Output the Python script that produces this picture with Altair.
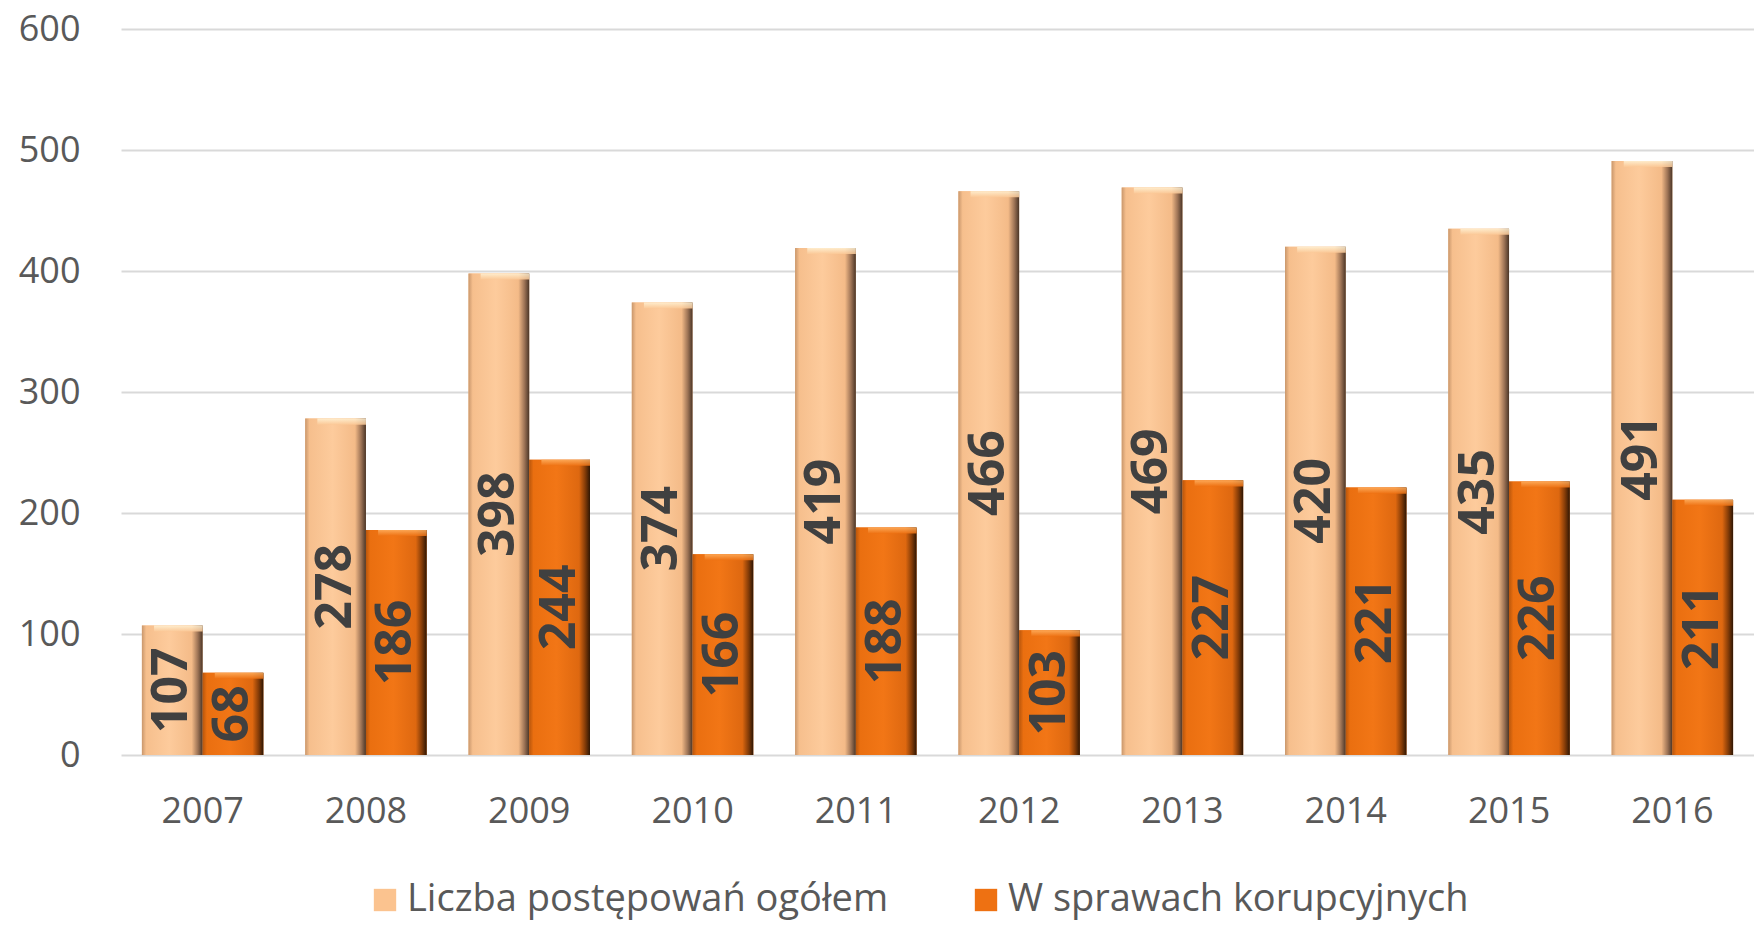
import altair as alt
import pandas as pd

years = ["2007", "2008", "2009", "2010", "2011", "2012", "2013", "2014", "2015", "2016"]
ogolem = [107, 278, 398, 374, 419, 466, 469, 420, 435, 491]
korupcyjne = [68, 186, 244, 166, 188, 103, 227, 221, 226, 211]
series_names = ["Liczba postępowań ogółem", "W sprawach korupcyjnych"]
series_colors = ["#FBC38F", "#EE7112"]
y_ticks = [0, 100, 200, 300, 400, 500, 600]

rows = []
for i, yr in enumerate(years):
    rows.append({"rok": yr, "seria": series_names[0], "wartosc": ogolem[i]})
    rows.append({"rok": yr, "seria": series_names[1], "wartosc": korupcyjne[i]})
df = pd.DataFrame(rows)

FONT = "Open Sans"
GREY = "#595959"

x_enc = alt.X(
    "rok:N",
    sort=years,
    scale=alt.Scale(paddingInner=0.256, paddingOuter=0.128),
    axis=alt.Axis(
        title=None, labelAngle=0, domain=False, ticks=False,
        labelFontSize=36, labelFont=FONT, labelColor=GREY, labelPadding=39,
    ),
)
xoff_enc = alt.XOffset(
    "seria:N", sort=series_names,
    scale=alt.Scale(domain=series_names, paddingInner=0, paddingOuter=0),
)
y_scale = alt.Scale(domain=[0, 600], nice=False)
y_enc = alt.Y(
    "wartosc:Q",
    scale=y_scale,
    axis=alt.Axis(
        title=None, values=y_ticks, domain=False, ticks=False,
        labelFontSize=36, labelFont=FONT, labelColor=GREY, labelPadding=41,
        grid=True, gridColor="#D9D9D9", gridWidth=2,
    ),
)

base = alt.Chart(df).encode(x=x_enc, xOffset=xoff_enc)

bars = base.mark_bar(strokeWidth=0).encode(
    y=y_enc,
    color=alt.Color(
        "seria:N", sort=series_names,
        scale=alt.Scale(domain=series_names, range=series_colors),
        legend=alt.Legend(
            orient="none", legendX=245, legendY=852, direction="horizontal",
            title=None, labelFontSize=38, labelFont=FONT, labelColor=GREY,
            labelLimit=800, symbolType="square", symbolSize=500,
            symbolStrokeWidth=0, columnPadding=78, labelOffset=3,
        ),
    ),
)

grad_light = alt.Gradient(
    gradient="linear", x1=0, x2=1, y1=0, y2=0,
    stops=[
        alt.GradientStop(offset=0, color="#C9976C"),
        alt.GradientStop(offset=0.07, color="#F6BF8D"),
        alt.GradientStop(offset=0.45, color="#FDCB9C"),
        alt.GradientStop(offset=0.82, color="#F4BB88"),
        alt.GradientStop(offset=0.92, color="#9E7456"),
        alt.GradientStop(offset=1, color="#4A3527"),
    ],
)
grad_orange = alt.Gradient(
    gradient="linear", x1=0, x2=1, y1=0, y2=0,
    stops=[
        alt.GradientStop(offset=0, color="#B9560C"),
        alt.GradientStop(offset=0.07, color="#EA6F10"),
        alt.GradientStop(offset=0.45, color="#F27616"),
        alt.GradientStop(offset=0.82, color="#DE6810"),
        alt.GradientStop(offset=0.92, color="#843C08"),
        alt.GradientStop(offset=1, color="#2E1604"),
    ],
)
cap_light = alt.Gradient(
    gradient="linear", x1=0, x2=0, y1=0, y2=1,
    stops=[
        alt.GradientStop(offset=0, color="#FFF3D6"),
        alt.GradientStop(offset=1, color="#FBC896"),
    ],
)
cap_orange = alt.Gradient(
    gradient="linear", x1=0, x2=0, y1=0, y2=1,
    stops=[
        alt.GradientStop(offset=0, color="#FFB060"),
        alt.GradientStop(offset=1, color="#EE7112"),
    ],
)

over_light = base.transform_filter(
    alt.datum.seria == series_names[0]
).mark_bar(fill=grad_light, strokeWidth=0).encode(y=y_enc)
over_orange = base.transform_filter(
    alt.datum.seria == series_names[1]
).mark_bar(fill=grad_orange, strokeWidth=0).encode(y=y_enc)

top_light = base.transform_filter(
    alt.datum.seria == series_names[0]
).transform_calculate(
    capb="datum.wartosc - 5"
).mark_bar(fill=cap_light, strokeWidth=0, opacity=0.85, width={"band": 0.8}).encode(
    y=alt.Y("wartosc:Q", scale=y_scale), y2="capb:Q"
)
top_orange = base.transform_filter(
    alt.datum.seria == series_names[1]
).transform_calculate(
    capb="datum.wartosc - 5"
).mark_bar(fill=cap_orange, strokeWidth=0, opacity=0.85, width={"band": 0.8}).encode(
    y=alt.Y("wartosc:Q", scale=y_scale), y2="capb:Q"
)

labels = base.transform_calculate(
    mid="datum.wartosc / 2"
).mark_text(
    angle=270, align="center", baseline="middle",
    fontSize=50, fontWeight="bold", font=FONT, color="#404040",
).encode(
    y=alt.Y("mid:Q", scale=y_scale),
    text=alt.Text("wartosc:Q"),
)

chart = alt.layer(bars, over_light, over_orange, top_light, top_orange, labels).properties(
    width=1633, height=726,
    autosize=alt.AutoSizeParams(type="none"),
    padding={"left": 113, "top": 21, "right": 0, "bottom": 166},
).configure_view(stroke=None)

chart.save("out.html", embed_options={"renderer": "svg", "actions": False})
